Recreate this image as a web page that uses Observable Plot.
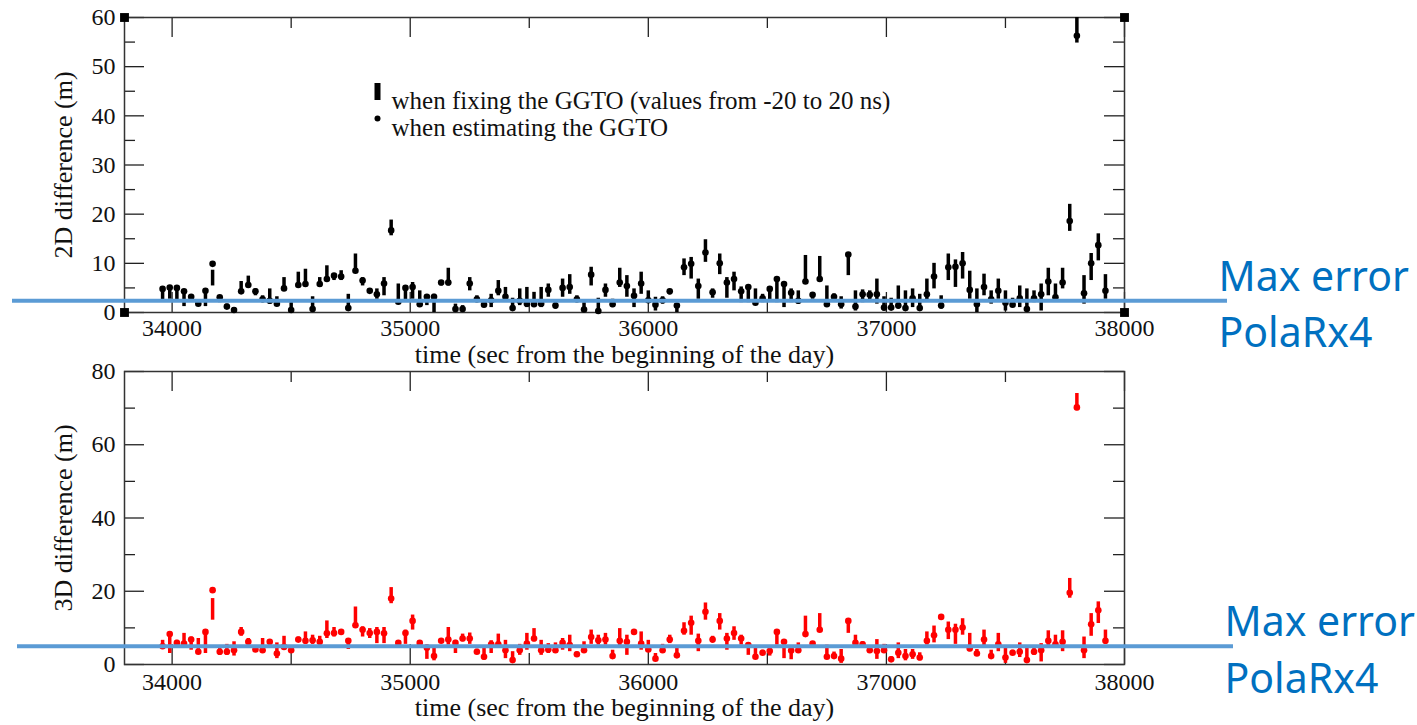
<!DOCTYPE html>
<html>
<head>
<meta charset="utf-8">
<script src="https://cdn.jsdelivr.net/npm/d3@7"></script>
<script src="https://cdn.jsdelivr.net/npm/@observablehq/plot@0.6"></script>
<style>
  body { margin: 0; background: #fff; }
  svg { display: block; }
</style>
</head>
<body>
<div id="chart"></div>
<script>
// Epoch times (seconds from the beginning of the day)
const times = [
  33960, 33990, 34020, 34050, 34080, 34110, 34140, 34170, 34200, 34230,
  34260, 34290, 34320, 34350, 34380, 34410, 34440, 34470, 34500, 34530,
  34560, 34590, 34620, 34650, 34680, 34710, 34740, 34770, 34800, 34830,
  34860, 34890, 34920, 34950, 34980, 35010, 35040, 35070, 35100, 35130,
  35160, 35190, 35220, 35250, 35280, 35310, 35340, 35370, 35400, 35430,
  35460, 35490, 35520, 35550, 35580, 35610, 35640, 35670, 35700, 35730,
  35760, 35790, 35820, 35850, 35880, 35910, 35940, 35970, 36000, 36030,
  36060, 36090, 36120, 36150, 36180, 36210, 36240, 36270, 36300, 36330,
  36360, 36390, 36420, 36450, 36480, 36510, 36540, 36570, 36600, 36630,
  36660, 36690, 36720, 36750, 36780, 36810, 36840, 36870, 36900, 36930,
  36960, 36990, 37020, 37050, 37080, 37110, 37140, 37170, 37200, 37230,
  37260, 37290, 37320, 37350, 37380, 37410, 37440, 37470, 37500, 37530,
  37560, 37590, 37620, 37650, 37680, 37710, 37740, 37770, 37800, 37830,
  37860, 37890, 37920
];

// 2D difference (m): range when fixing the GGTO, and value when estimating it
const fix2dLow = [
  2.5, 2.7, 2.5, 1.2, 2.4, 1.6, 1.2, 5.4, 2.0, 0.7,
  0.0, 3.7, 5.0, 3.4, 2.0, 1.7, 1.4, 4.4, 0.0, 5.2,
  5.2, 0.0, 5.1, 6.5, 6.5, 6.5, 0.3, 8.2, 5.4, 3.9,
  2.7, 3.4, 15.6, 2.0, 2.4, 2.7, 1.4, 1.4, 0.0, 5.4,
  5.4, 0.0, 0.0, 4.4, 2.0, 1.0, 1.0, 3.4, 2.4, 0.3,
  1.4, 1.0, 1.4, 1.0, 3.1, 0.7, 3.1, 3.7, 2.0, 0.0,
  5.4, 0.0, 3.1, 1.0, 5.1, 3.1, 1.0, 3.7, 2.0, 0.3,
  1.7, 3.6, 0.0, 7.5, 6.8, 2.7, 10.2, 2.9, 7.7, 2.9,
  4.4, 2.0, 2.0, 1.7, 2.0, 2.4, 2.0, 1.0, 2.0, 1.7,
  6.1, 2.7, 6.5, 1.4, 2.2, 0.7, 7.5, 0.3, 2.0, 2.4,
  1.7, 0.3, 0.7, 0.7, 0.3, 1.0, 0.3, 2.4, 4.8, 0.7,
  6.5, 5.1, 6.8, 2.7, 0.0, 3.4, 1.7, 2.7, 0.3, 1.0,
  1.0, 0.3, 2.0, 0.3, 3.4, 2.7, 4.8, 16.5, 54.8, 1.7,
  6.5, 10.5, 2.7
];
const fix2dHigh = [
  5.2, 5.4, 5.2, 4.6, 3.6, 2.4, 4.7, 8.6, 3.4, 1.7,
  1.0, 6.3, 7.4, 4.8, 3.4, 4.8, 3.2, 7.1, 2.0, 8.2,
  8.8, 3.2, 7.1, 9.5, 7.8, 8.5, 3.7, 11.9, 7.1, 4.8,
  4.8, 7.1, 18.8, 5.8, 5.2, 6.1, 4.4, 3.4, 3.7, 6.5,
  9.0, 1.7, 1.4, 7.1, 3.4, 2.0, 3.7, 6.5, 5.1, 2.9,
  4.8, 5.1, 4.1, 5.1, 5.8, 2.4, 6.8, 7.7, 3.4, 2.0,
  9.2, 2.9, 5.8, 2.7, 9.0, 7.5, 4.8, 8.2, 4.4, 3.1,
  3.2, 4.7, 1.8, 10.9, 11.2, 6.8, 14.8, 4.8, 11.9, 7.1,
  8.2, 5.2, 5.4, 4.8, 3.7, 5.1, 7.1, 6.1, 4.8, 4.4,
  11.6, 4.0, 11.4, 5.4, 3.8, 3.2, 11.9, 4.4, 4.6, 4.4,
  6.8, 3.2, 2.9, 5.4, 4.4, 4.8, 3.7, 6.8, 10.0, 3.4,
  11.9, 10.7, 12.2, 8.4, 4.8, 7.8, 4.4, 6.8, 4.4, 2.9,
  5.4, 4.8, 4.4, 5.8, 9.0, 5.8, 9.0, 22.0, 60.0, 7.5,
  12.0, 16.0, 7.7
];
const est2d = [
  4.8, 5.1, 5.0, 4.3, 3.2, 1.8, 4.4, 9.9, 3.1, 1.2,
  0.5, 4.3, 5.6, 4.3, 2.7, 2.4, 1.8, 4.9, 0.5, 5.6,
  5.8, 0.7, 5.8, 6.8, 7.5, 7.3, 0.9, 8.5, 6.5, 4.4,
  3.7, 5.9, 16.7, 2.2, 5.0, 5.2, 1.7, 3.2, 3.2, 6.1,
  6.1, 0.7, 0.7, 5.9, 2.7, 1.6, 2.5, 4.4, 3.2, 0.9,
  2.4, 1.8, 1.7, 1.8, 4.6, 1.4, 5.0, 5.2, 2.7, 0.6,
  7.7, 0.3, 4.6, 1.7, 6.1, 5.4, 3.4, 5.9, 2.5, 1.6,
  2.5, 4.3, 1.4, 9.2, 9.9, 5.4, 12.2, 4.1, 10.0, 6.1,
  6.8, 4.3, 5.2, 2.0, 2.9, 4.8, 6.8, 5.8, 4.0, 2.4,
  6.3, 3.6, 6.8, 1.7, 3.2, 1.7, 11.8, 1.2, 3.7, 3.6,
  3.7, 1.0, 1.0, 1.4, 0.9, 2.9, 0.9, 3.7, 7.3, 1.4,
  9.2, 9.3, 10.0, 4.6, 1.7, 5.2, 2.7, 4.4, 2.0, 1.6,
  2.9, 0.7, 2.9, 3.7, 6.3, 3.1, 6.1, 18.6, 56.3, 3.9,
  10.0, 13.7, 4.4
];

// 3D difference (m): range when fixing the GGTO, and value when estimating it
const fix3dLow = [
  4.4, 3.0, 5.0, 4.8, 3.9, 3.0, 3.0, 12.1, 2.5, 2.5,
  2.3, 7.7, 5.3, 3.5, 3.5, 5.0, 1.6, 4.4, 3.0, 6.2,
  5.5, 5.5, 5.3, 7.1, 7.5, 8.3, 4.1, 10.7, 7.5, 7.1,
  5.7, 5.7, 16.6, 5.3, 5.5, 9.4, 4.6, 1.4, 1.0, 5.9,
  5.3, 3.0, 6.2, 5.5, 2.9, 1.2, 3.0, 4.8, 1.6, 0.3,
  2.5, 3.9, 6.2, 2.5, 3.0, 3.0, 3.9, 3.5, 2.2, 3.0,
  5.5, 5.3, 5.3, 1.4, 4.8, 2.5, 8.3, 3.9, 3.5, 1.0,
  3.2, 5.7, 2.1, 8.0, 8.0, 3.5, 12.1, 5.9, 9.4, 3.9,
  6.6, 5.3, 2.5, 1.6, 2.5, 2.3, 5.3, 1.6, 1.3, 3.2,
  7.5, 5.0, 9.2, 1.4, 1.9, 0.3, 8.5, 4.8, 4.8, 3.4,
  1.4, 3.0, 0.7, 1.6, 1.0, 1.4, 1.0, 5.3, 5.9, 12.5,
  6.8, 5.5, 8.0, 3.5, 2.3, 5.0, 1.9, 3.5, 0.3, 2.5,
  1.9, 0.3, 2.5, 0.7, 4.6, 4.4, 3.5, 18.1, 69.3, 1.6,
  7.7, 11.2, 5.5
];
const fix3dHigh = [
  6.6, 8.9, 6.6, 8.5, 7.5, 7.1, 9.4, 18.0, 4.4, 5.5,
  6.2, 10.1, 7.1, 5.0, 7.1, 6.6, 5.9, 7.7, 5.0, 7.5,
  8.9, 8.0, 7.7, 11.9, 10.1, 9.4, 7.1, 15.7, 10.3, 9.8,
  10.1, 10.1, 21.0, 6.5, 9.4, 13.5, 6.5, 5.3, 4.6, 7.1,
  10.1, 6.6, 8.3, 8.6, 4.2, 4.4, 6.5, 8.3, 6.6, 3.5,
  5.5, 8.5, 9.8, 6.6, 5.7, 5.9, 7.1, 8.0, 3.4, 6.2,
  9.4, 8.0, 8.5, 3.9, 9.8, 8.0, 9.4, 8.9, 6.6, 3.0,
  5.5, 8.0, 4.4, 11.4, 13.2, 8.3, 16.8, 7.7, 13.9, 8.5,
  10.3, 8.0, 5.9, 4.4, 3.9, 4.6, 9.4, 6.6, 5.0, 5.9,
  13.2, 6.2, 13.9, 5.3, 3.4, 4.1, 12.1, 8.0, 6.2, 4.4,
  6.8, 5.5, 2.1, 5.9, 4.1, 4.1, 3.2, 8.9, 10.5, 13.5,
  11.6, 11.0, 12.5, 8.5, 4.1, 9.4, 3.9, 8.5, 4.4, 3.9,
  5.9, 4.6, 5.0, 5.7, 9.2, 8.0, 9.2, 23.5, 74.0, 7.5,
  13.9, 17.1, 9.4
];
const est3d = [
  5.0, 8.3, 5.9, 5.7, 6.8, 3.5, 8.9, 20.3, 3.5, 3.5,
  3.9, 8.9, 6.2, 4.1, 3.9, 6.2, 3.0, 4.8, 3.9, 6.8,
  6.5, 6.6, 6.2, 8.5, 8.6, 8.9, 6.5, 10.7, 9.5, 8.6,
  8.9, 8.5, 18.0, 5.9, 8.6, 11.9, 5.9, 4.6, 2.3, 6.5,
  6.8, 5.9, 7.1, 7.1, 3.5, 2.1, 5.5, 5.5, 3.9, 1.2,
  3.9, 5.7, 7.1, 3.9, 4.1, 3.9, 5.9, 5.3, 2.8, 3.9,
  7.5, 6.6, 6.8, 2.3, 6.5, 6.2, 8.9, 5.7, 4.1, 1.6,
  3.9, 6.8, 2.5, 9.2, 11.4, 6.5, 14.4, 6.8, 11.9, 7.1,
  8.6, 7.1, 5.3, 2.1, 3.2, 3.7, 8.9, 6.2, 3.8, 3.9,
  8.3, 5.7, 9.5, 2.1, 2.3, 1.6, 11.9, 5.9, 5.5, 3.9,
  3.7, 3.9, 1.4, 3.2, 2.3, 2.8, 1.9, 6.5, 8.0, 13.0,
  9.5, 9.5, 10.1, 4.4, 3.0, 6.8, 2.3, 5.5, 1.9, 3.2,
  3.5, 1.2, 3.5, 3.9, 6.5, 5.5, 6.2, 19.6, 70.2, 3.9,
  11.0, 14.8, 6.5
];

// Axis ticks
const xMajor = [34000, 35000, 36000, 37000, 38000];
const xMinor = [34500, 35500, 36500, 37500];
const yMajor2d = [0, 10, 20, 30, 40, 50, 60];
const yMinor2d = [5, 15, 25, 35, 45, 55];
const yMajor3d = [0, 20, 40, 60, 80];
const yMinor3d = [10, 30, 50, 70];

// Receiver reference level for each panel
const maxError2d = 2.4;
const maxError3d = 5;
const maxErrorLabel = "Max error\nPolaRx4";

const xLabel = "time (sec from the beginning of the day)";
const legendLabels = ["when fixing the GGTO (values from -20 to 20 ns)", "when estimating the GGTO"];

const rows2d = times.map((t, i) => ({t, lo: fix2dLow[i], hi: fix2dHigh[i], est: est2d[i]}));
const rows3d = times.map((t, i) => ({t, lo: fix3dLow[i], hi: fix3dHigh[i], est: est3d[i]}));

const W = 1417, ML = 124, MR = 293;
const innerW = W - ML - MR;
const serif = "'Liberation Serif', 'Times New Roman', serif";
const majorLen = 20, minorLen = 11;
const tickFont = 24, labelFont = 26, legendFont = 25;

// Filled bar used as the legend glyph for the GGTO-fixed ranges
const barSymbol = {draw(context) { context.rect(-3, -8.5, 6, 17); }};

function panel({rows, color, yDomain, yMajor, yMinor, yLabel, maxErr, height, marginTop, marginBottom,
                tickPad, xLabelDy, lineLeft, lineRight, noteDx, extra = []}) {
  const innerH = height - marginTop - marginBottom;
  const tick = {stroke: "#222", strokeWidth: 1.3};
  return Plot.plot({
    width: W,
    height,
    marginLeft: ML,
    marginRight: MR,
    marginTop,
    marginBottom,
    style: {fontFamily: serif, background: "transparent", color: "#111", overflow: "visible"},
    x: {domain: [33800, 38000], label: null},
    y: {domain: yDomain, label: null},
    marks: [
      // inward ticks on all four sides
      Plot.ruleY(yMajor, {insetRight: innerW - majorLen, ...tick}),
      Plot.ruleY(yMajor, {insetLeft: innerW - majorLen, ...tick}),
      Plot.ruleY(yMinor, {insetRight: innerW - minorLen, ...tick}),
      Plot.ruleY(yMinor, {insetLeft: innerW - minorLen, ...tick}),
      Plot.ruleX(xMajor, {insetTop: innerH - majorLen, ...tick}),
      Plot.ruleX(xMajor, {insetBottom: innerH - majorLen, ...tick}),
      Plot.ruleX(xMinor, {insetTop: innerH - minorLen, ...tick}),
      Plot.ruleX(xMinor, {insetBottom: innerH - minorLen, ...tick}),
      Plot.frame({stroke: "#333", strokeWidth: 1.5}),
      Plot.axisX(xMajor, {tickSize: 0, tickPadding: tickPad, tickFormat: d3.format("d"), fontSize: tickFont, fill: "#111", label: null}),
      Plot.axisY(yMajor, {tickSize: 0, tickPadding: 9, tickFormat: d3.format("d"), fontSize: tickFont, fill: "#111", label: null}),
      Plot.text([yLabel], {frameAnchor: "left", textAnchor: "middle", rotate: -90, dx: -61, fontSize: labelFont, fill: "#111"}),
      Plot.text([xLabel], {frameAnchor: "bottom", textAnchor: "middle", dy: xLabelDy, fontSize: labelFont, fill: "#111"}),
      // range obtained when fixing the GGTO
      Plot.ruleX(rows, {x: "t", y1: "lo", y2: "hi", stroke: color, strokeWidth: 3.5}),
      // value obtained when estimating the GGTO
      Plot.dot(rows, {x: "t", y: "est", r: 3.3, fill: color}),
      ...extra,
      // receiver maximum error level
      Plot.ruleY([maxErr], {stroke: "#5B9BD5", strokeWidth: 4, insetLeft: lineLeft, insetRight: lineRight}),
      Plot.text([maxErr], {
        y: d => d, text: () => maxErrorLabel, frameAnchor: "right", textAnchor: "start",
        dx: noteDx, fill: "#0070C0", fontSize: 41, fontFamily: "'Noto Sans', sans-serif", lineHeight: 1.38
      })
    ]
  });
}

const corners = [
  {x: 33800, y: 0}, {x: 38000, y: 0}, {x: 33800, y: 60}, {x: 38000, y: 60}
];

const legendMarks = [
  Plot.dot([legendLabels[0]], {frameAnchor: "top-left", dx: 253, dy: 74, symbol: barSymbol, fill: "#000"}),
  Plot.dot([legendLabels[1]], {frameAnchor: "top-left", dx: 253, dy: 101, r: 3, fill: "#000"}),
  Plot.text([legendLabels[0]], {frameAnchor: "top-left", dx: 267, dy: 74, textAnchor: "start", fontSize: legendFont, fill: "#111"}),
  Plot.text([legendLabels[1]], {frameAnchor: "top-left", dx: 267, dy: 101, textAnchor: "start", fontSize: legendFont, fill: "#111"}),
  Plot.dot(corners, {x: "x", y: "y", symbol: "square", r: 5, fill: "#000"})
];

const top2d = panel({
  rows: rows2d, color: "#000", yDomain: [0, 60], yMajor: yMajor2d, yMinor: yMinor2d,
  yLabel: "2D difference (m)", maxErr: maxError2d, height: 360, marginTop: 17, marginBottom: 48,
  tickPad: 6, xLabelDy: 50, lineLeft: -(ML - 12), lineRight: -(1227 - (W - MR)), noteDx: 94,
  extra: legendMarks
});

const bottom3d = panel({
  rows: rows3d, color: "#ff0000", yDomain: [0, 80], yMajor: yMajor3d, yMinor: yMinor3d,
  yLabel: "3D difference (m)", maxErr: maxError3d, height: 365, marginTop: 11, marginBottom: 61,
  tickPad: 8, xLabelDy: 51, lineLeft: -(ML - 17), lineRight: -(1233 - (W - MR)), noteDx: 100
});

const chart = document.getElementById("chart");
chart.append(top2d, bottom3d);
</script>
</body>
</html>
